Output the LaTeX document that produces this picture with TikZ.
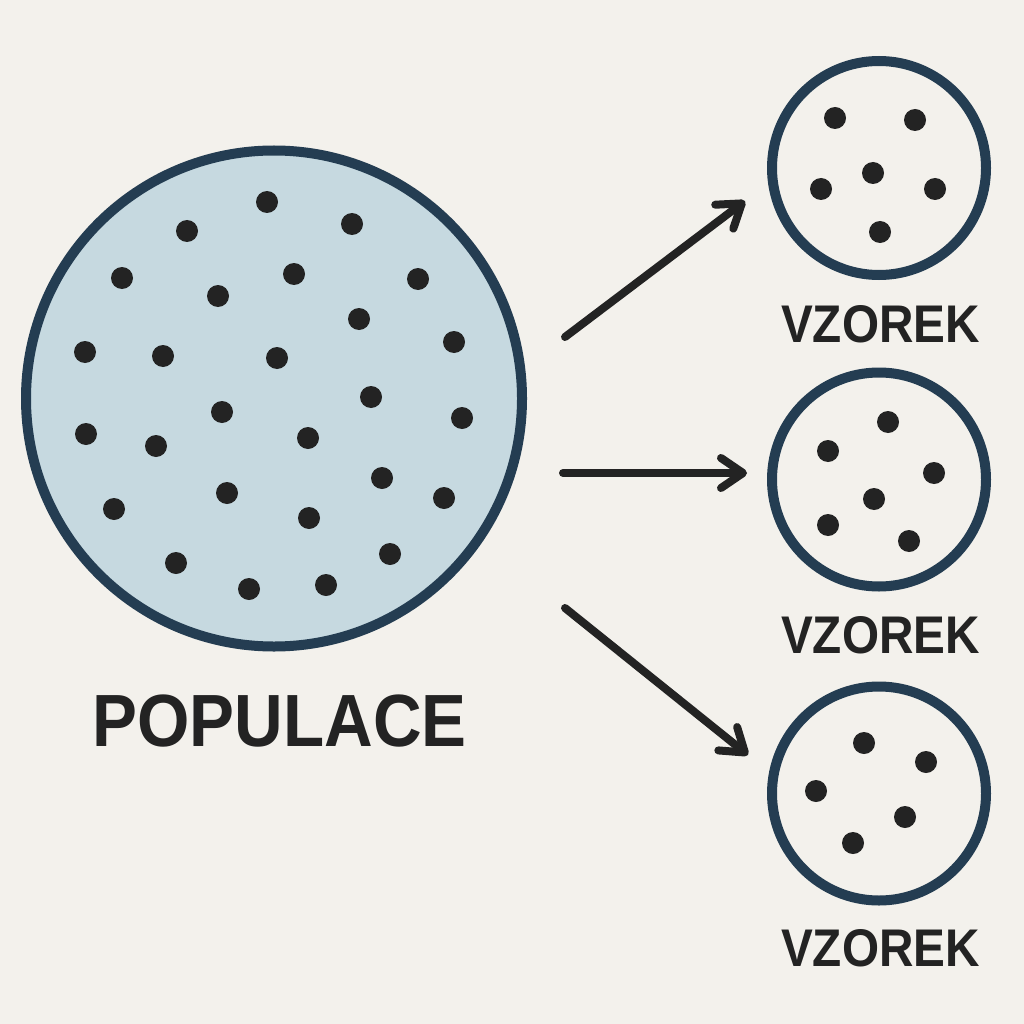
\documentclass[tikz,border=0pt]{standalone}
\usepackage{fontspec}
\setmainfont{Liberation Sans}
\usetikzlibrary{arrows.meta}
\definecolor{paper}{HTML}{F3F1EC}
\definecolor{ring}{HTML}{243D52}
\definecolor{popfill}{HTML}{C6D9E0}
\definecolor{ink}{HTML}{232323}
\tikzset{
  bigring/.style={circle, draw=ring, fill=popfill, line width=10pt, inner sep=0pt, minimum size=496pt},
  smallring/.style={circle, draw=ring, line width=10pt, inner sep=0pt, minimum size=214pt},
  biglabel/.style={anchor=base, text=ink, inner sep=0pt, font=\fontsize{74}{80}\selectfont\bfseries},
  smalllabel/.style={anchor=base, text=ink, inner sep=0pt, font=\fontsize{53}{60}\selectfont\bfseries},
  flow/.style={draw=ink, line width=8pt, line cap=round,
    -{Straight Barb[length=22pt, width=30pt, round]}},
}
\newcommand{\dotsat}[1]{\foreach \px/\py in {#1} \fill[ink] (\px,\py) circle [radius=11];}
\begin{document}
\begin{tikzpicture}[x=1pt, y=-1pt]
  \useasboundingbox (0,0) rectangle (1024,1024);
  \fill[paper] (0,0) rectangle (1024,1024);

  % population
  \node[bigring] (pop) at (274,398.5) {};
  \dotsat{267/202, 187/231, 352/224, 122/278, 294/274, 218/296, 418/279,
          359/319, 85/352, 163/356, 277/358, 454/342, 371/397, 222/412,
          86/434, 156/446, 308/438, 462/418, 382/478, 227/493, 114/509,
          309/518, 444/498, 176/563, 390/554, 249/589, 326/585}
  \node[biglabel] (poplabel) at (279.5,746) {\scalebox{0.91}[1]{POPULACE}};

  % samples
  \node[smallring] (s1) at (879,168) {};
  \dotsat{835/118, 915/120, 873/173, 821/189, 935/189, 880/232}
  \node[smalllabel] (l1) at (880.5,342) {\scalebox{0.9}[1]{VZOREK}};

  \node[smallring] (s2) at (879,479.5) {};
  \dotsat{888/422, 828/451, 934/473, 874/499, 828/525, 909/541}
  \node[smalllabel] (l2) at (880.5,653) {\scalebox{0.9}[1]{VZOREK}};

  \node[smallring] (s3) at (879,793.5) {};
  \dotsat{864/743, 926/762, 816/791, 905/817, 853/843}
  \node[smalllabel] (l3) at (880.5,966) {\scalebox{0.9}[1]{VZOREK}};

  % sampling arrows
  \coordinate (a1s) at (565,337);
  \coordinate (a1e) at (745,201);
  \coordinate (a2s) at (563,473);
  \coordinate (a2e) at (747,473);
  \coordinate (a3s) at (565,608);
  \coordinate (a3e) at (748,755);
  \draw[flow] (a1s) -- (a1e);
  \draw[flow] (a2s) -- (a2e);
  \draw[flow] (a3s) -- (a3e);
\end{tikzpicture}
\end{document}
